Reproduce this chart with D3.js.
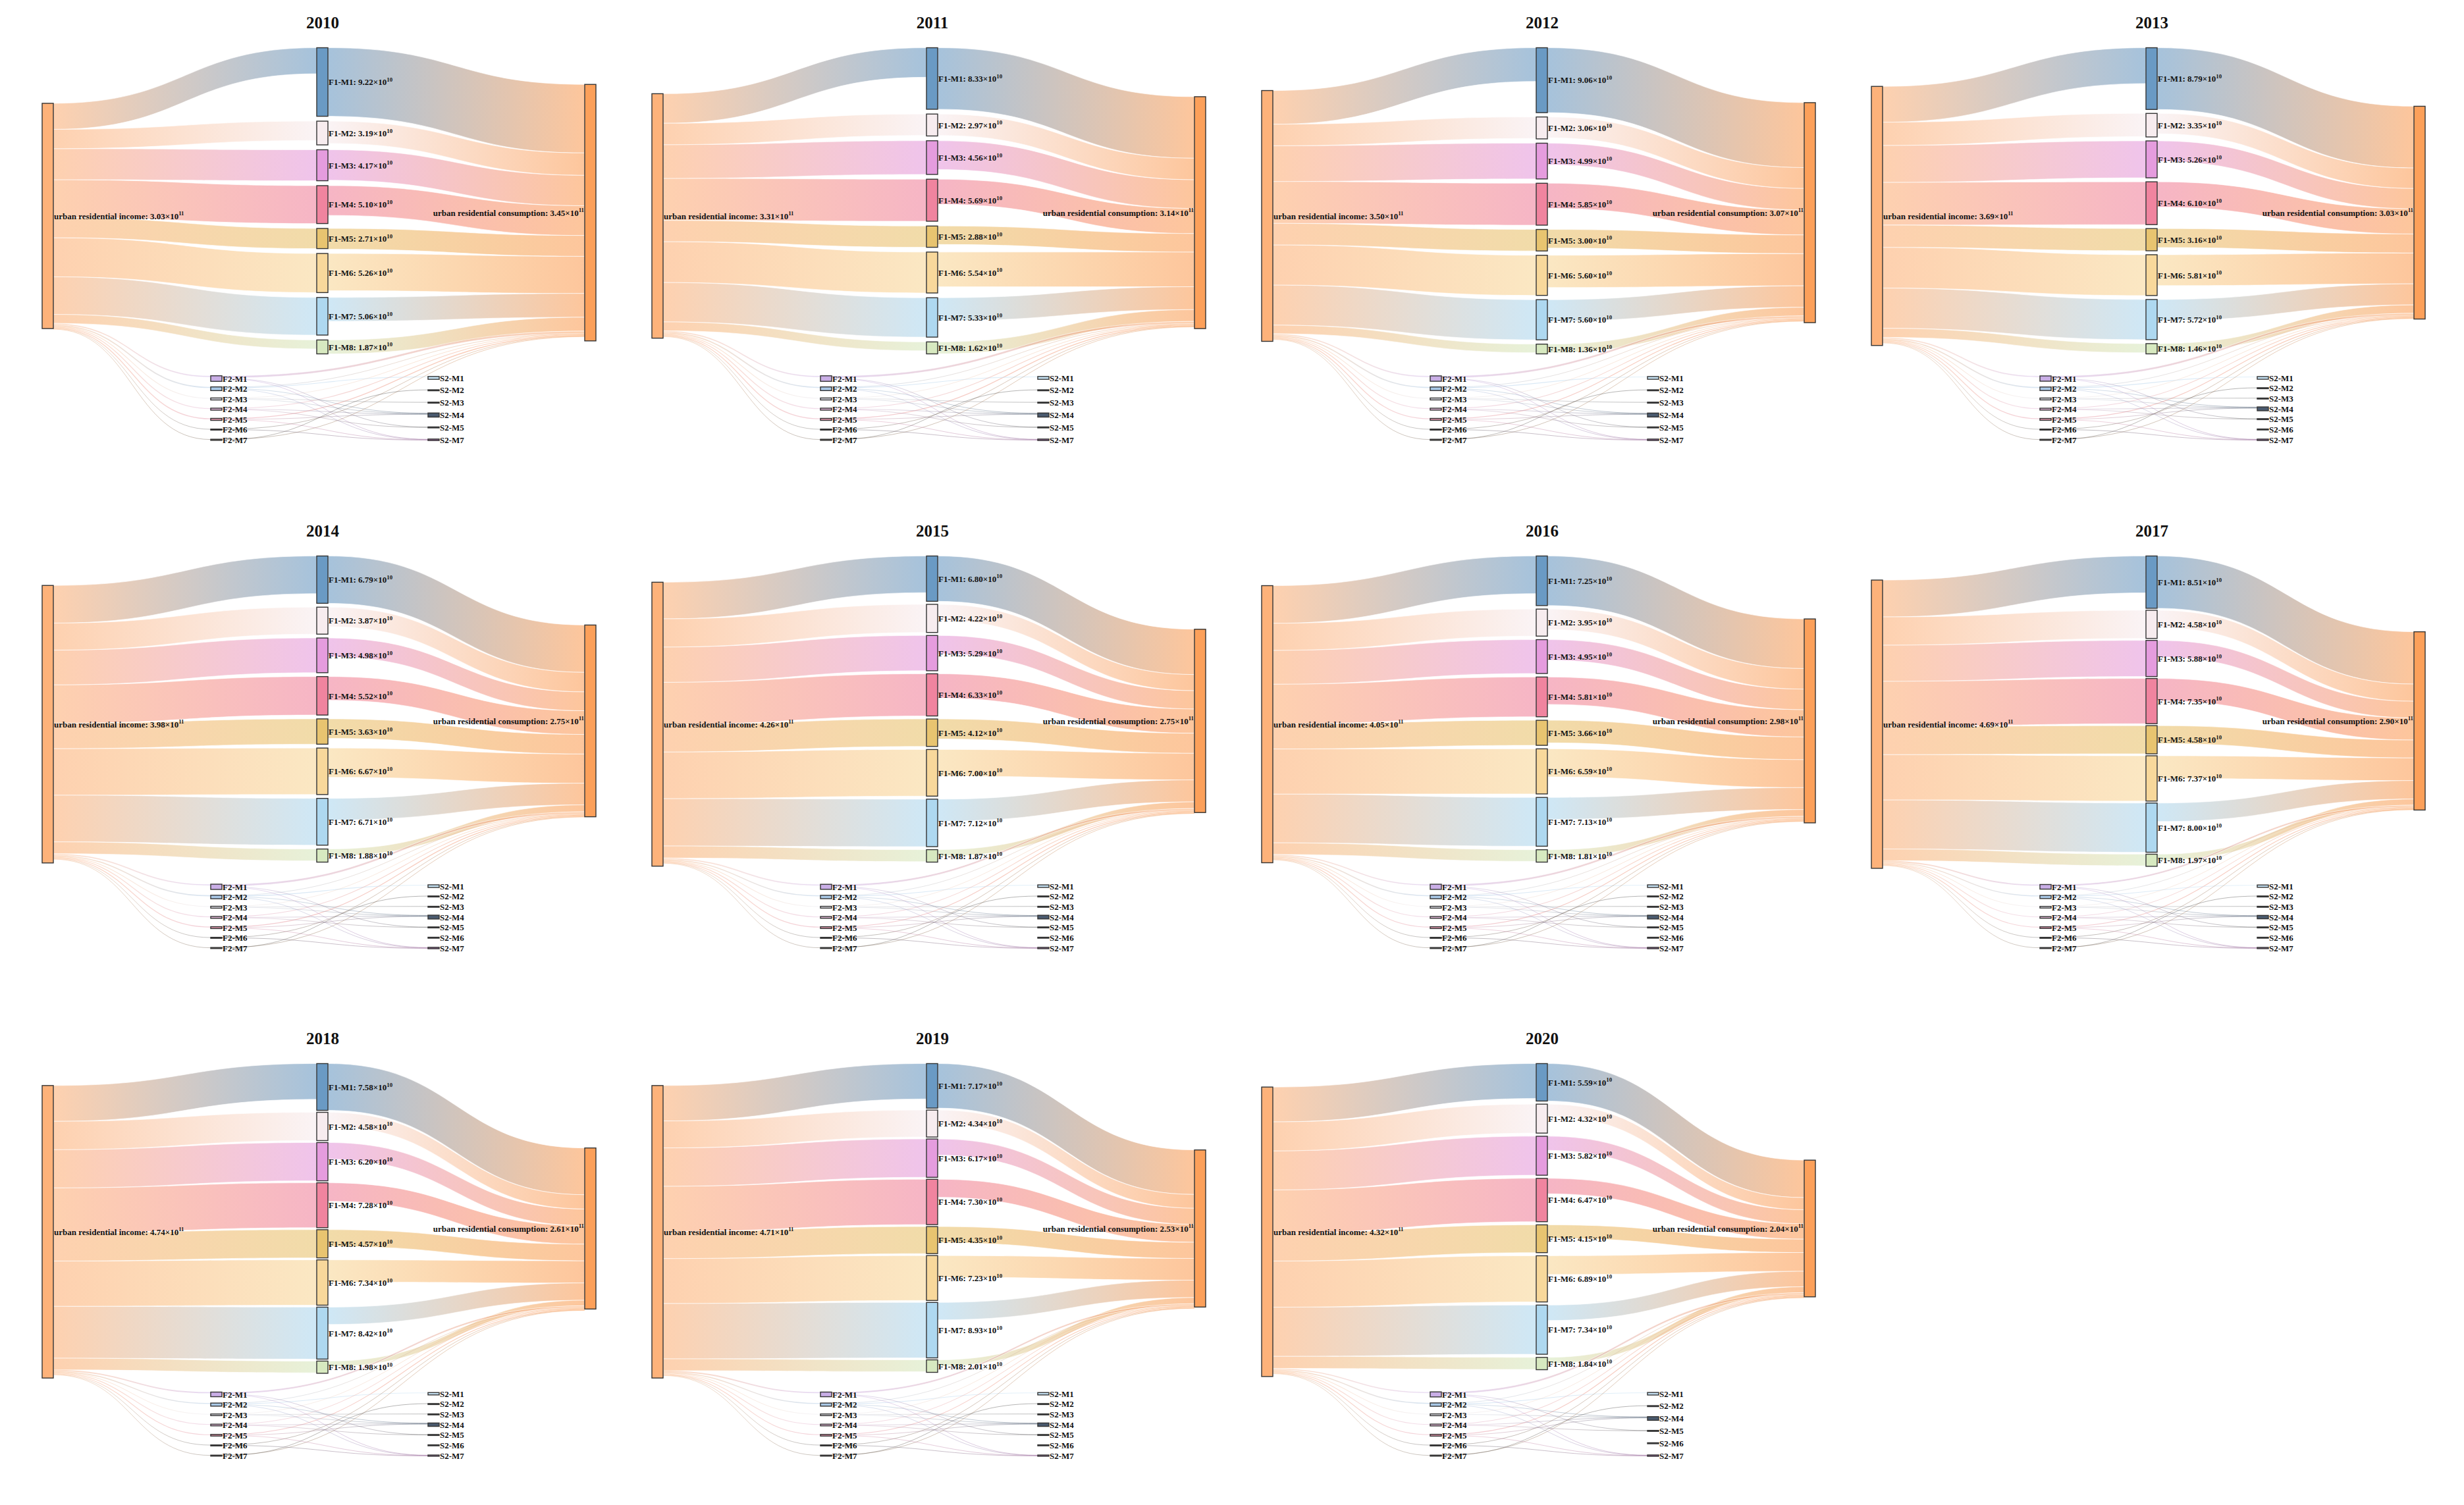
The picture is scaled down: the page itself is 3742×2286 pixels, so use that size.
<!DOCTYPE html>
<html><head><meta charset="utf-8">
<script src="https://cdn.jsdelivr.net/npm/d3@7"></script>
<style>
body{margin:0;background:#fff}
svg{display:block}
text{font-family:"Liberation Serif","Times New Roman",serif;font-weight:bold;fill:#111}
</style>
</head><body>
<svg id="chart" width="3742" height="2286"></svg>
<script>
// ---------------- DATA ----------------
const years = [2010, 2011, 2012, 2013, 2014, 2015, 2016, 2017, 2018, 2019, 2020];
// node totals, ×10^11
const incomeTotal = [3.03, 3.31, 3.50, 3.69, 3.98, 4.26, 4.05, 4.69, 4.74, 4.71, 4.32];
const consumptionTotal = [3.45, 3.14, 3.07, 3.03, 2.75, 2.75, 2.98, 2.90, 2.61, 2.53, 2.04];
// first-level sectors, ×10^10
const f1Labels = ["F1-M1", "F1-M2", "F1-M3", "F1-M4", "F1-M5", "F1-M6", "F1-M7", "F1-M8"];
const f1Values = [
  [9.22, 3.19, 4.17, 5.10, 2.71, 5.26, 5.06, 1.87],
  [8.33, 2.97, 4.56, 5.69, 2.88, 5.54, 5.33, 1.62],
  [9.06, 3.06, 4.99, 5.85, 3.00, 5.60, 5.60, 1.36],
  [8.79, 3.35, 5.26, 6.10, 3.16, 5.81, 5.72, 1.46],
  [6.79, 3.87, 4.98, 5.52, 3.63, 6.67, 6.71, 1.88],
  [6.80, 4.22, 5.29, 6.33, 4.12, 7.00, 7.12, 1.87],
  [7.25, 3.95, 4.95, 5.81, 3.66, 6.59, 7.13, 1.81],
  [8.51, 4.58, 5.88, 7.35, 4.58, 7.37, 8.00, 1.97],
  [7.58, 4.58, 6.20, 7.28, 4.57, 7.34, 8.42, 1.98],
  [7.17, 4.34, 6.17, 7.30, 4.35, 7.23, 8.93, 2.01],
  [5.59, 4.32, 5.82, 6.47, 4.15, 6.89, 7.34, 1.84]
];
// flows income -> F1 (×10^10), estimated from band widths
const incomeToF1 = [
  [3.5, 2.6, 4.17, 5.10, 2.71, 5.26, 5.06, 1.2],
  [4.0, 2.9, 4.56, 5.69, 2.88, 5.54, 5.33, 1.2],
  [4.7, 3.0, 4.99, 5.85, 3.00, 5.60, 5.60, 1.2],
  [5.1, 3.3, 5.26, 6.10, 3.16, 5.81, 5.72, 1.3],
  [5.4, 3.87, 4.98, 5.52, 3.63, 6.67, 6.71, 1.7],
  [5.5, 4.22, 5.29, 6.33, 4.12, 7.00, 7.12, 1.8],
  [5.5, 3.95, 4.95, 5.81, 3.66, 6.59, 7.13, 1.7],
  [6.0, 4.58, 5.88, 7.35, 4.58, 7.37, 8.00, 1.9],
  [5.8, 4.58, 6.20, 7.28, 4.57, 7.34, 8.42, 1.9],
  [5.7, 4.34, 6.17, 7.30, 4.35, 7.23, 8.93, 1.9],
  [5.2, 4.32, 5.82, 6.47, 4.15, 6.89, 7.34, 1.8]
];
// flows F1 -> consumption (×10^10), estimated from band widths
const f1ToConsumption = [
  [9.22, 3.0, 4.1, 4.0, 2.8, 5.0, 3.2, 1.87],
  [8.33, 2.9, 3.9, 3.4, 2.5, 4.7, 3.1, 1.6],
  [9.06, 2.9, 3.0, 3.5, 2.6, 4.5, 3.0, 1.2],
  [8.79, 2.9, 2.9, 3.6, 2.7, 4.4, 3.0, 1.2],
  [6.79, 2.8, 2.7, 3.4, 2.8, 4.2, 3.1, 1.0],
  [6.80, 2.4, 2.75, 3.65, 3.0, 4.0, 3.3, 1.0],
  [7.25, 3.0, 3.0, 4.0, 3.3, 4.1, 3.2, 1.0],
  [8.51, 2.8, 2.7, 3.6, 2.9, 3.7, 3.0, 1.0],
  [7.58, 2.3, 2.7, 3.0, 2.7, 3.6, 2.8, 0.9],
  [7.17, 2.2, 2.6, 2.9, 2.6, 3.5, 2.8, 1.0],
  [5.59, 1.8, 2.1, 2.3, 2.0, 2.8, 2.3, 0.9]
];
// second-level sectors (small), ×10^10
const f2Labels = ["F2-M1", "F2-M2", "F2-M3", "F2-M4", "F2-M5", "F2-M6", "F2-M7"];
const f2Values = [0.75, 0.5, 0.27, 0.27, 0.27, 0.1, 0.15];
const incomeToF2 = [0.2, 0.15, 0.1, 0.12, 0.12, 0.06, 0.08];
const f2ToConsumption = [0.3, 0.08, 0.06, 0.1, 0.12, 0.05, 0.05];
const s2Labels = ["S2-M1", "S2-M2", "S2-M3", "S2-M4", "S2-M5", "S2-M6", "S2-M7"];
const s2Values = [0.38, 0.1, 0.1, 0.55, 0.1, 0.1, 0.2];
// which S2 nodes appear in each year
const s2Present = [
  [1, 1, 1, 1, 1, 0, 1],
  [1, 1, 1, 1, 1, 0, 1],
  [1, 1, 1, 1, 1, 0, 1],
  [1, 1, 1, 1, 1, 1, 1],
  [1, 1, 1, 1, 1, 1, 1],
  [1, 1, 1, 1, 1, 1, 1],
  [1, 1, 1, 1, 1, 1, 1],
  [1, 1, 1, 1, 1, 1, 1],
  [1, 1, 1, 1, 1, 1, 1],
  [1, 1, 1, 1, 1, 1, 1],
  [1, 1, 0, 1, 1, 1, 1]
];
// F2 -> S2 flows: [F2 index, S2 index, value ×10^10]
const f2ToS2 = [
  [0, 4, 0.05], [0, 6, 0.06], [1, 0, 0.1], [1, 3, 0.06], [2, 3, 0.05], [2, 2, 0.04],
  [3, 3, 0.05], [4, 3, 0.04], [4, 6, 0.04], [5, 6, 0.03], [6, 1, 0.03], [1, 6, 0.03], [3, 4, 0.03]
];

// ---------------- STYLE ----------------
const incomeColor = "#FDB27A", consColor = "#FCA05A";
const f1Colors = ["#6A9AC4", "#F7ECEF", "#E59CDE", "#F0849F", "#E8C470", "#F8D89B", "#AED8F0", "#D7E9C0"];
const f2Colors = ["#C9AEE6", "#A9C8E6", "#E6E6EE", "#E2B6D6", "#E49AB0", "#555555", "#6A5E52"];
const s2Colors = ["#C6E2F4", "#444444", "#555555", "#4A5A6E", "#555555", "#666666", "#9A6A9A"];

// ---------------- LAYOUT ----------------
const svg = d3.select("#chart");
const defs = svg.append("defs");
const colW = 926, rowH = 771.5, nodeW = 17;
const colX = {income: 64, f2: 320, f1: 481, s2: 650, cons: 888};
let gid = 0;

function label(g, x, y, main, sup, anchor, size) {
  const t = g.append("text").attr("x", x).attr("y", y).attr("dy", "0.36em")
    .attr("text-anchor", anchor).attr("font-size", size);
  t.append("tspan").text(main);
  if (sup) t.append("tspan").attr("font-size", size * 0.68).attr("dy", -size * 0.4).text(sup);
}

years.forEach((yr, yi) => {
  const col = yi % 4, row = Math.floor(yi / 4);
  const g = svg.append("g").attr("transform", `translate(${col * colW},${Math.round(row * rowH)})`);

  const sumF1 = d3.sum(f1Values[yi]);
  const K = 3.2 + 296 / sumF1;                    // px per 10^10
  const vs = d3.scaleLinear().domain([0, 1]).range([0, K]);

  const nodes = [];
  const mk = (name, x, y0, h, color, kind, val) => {
    const n = {name, x0: x, x1: x + nodeW, y0, y1: y0 + h, yc: y0 + h / 2, color, kind, val, out: [], inn: []};
    nodes.push(n); return n;
  };
  // income & consumption
  const hInc = vs(incomeTotal[yi] * 10), hCons = vs(consumptionTotal[yi] * 10);
  const nInc = mk("urban residential income", colX.income, 328 - hInc / 2, hInc, incomeColor, "inc", incomeTotal[yi]);
  const nCons = mk("urban residential consumption", colX.cons, 323 - hCons / 2, hCons, consColor, "cons", consumptionTotal[yi]);
  // F1 column
  const span = 465;
  const gap = Math.max(3, (span - vs(sumF1)) / 7);
  let y = 305 - span / 2;
  const nF1 = f1Values[yi].map((v, i) => {
    const n = mk(f1Labels[i], colX.f1, y, vs(v), f1Colors[i], "f1", v);
    y += vs(v) + gap; return n;
  });
  // F2 column
  const f2Pos = d3.scalePoint().domain(f2Labels).range([575, 668]);
  const nF2 = f2Labels.map((l, i) => {
    const h = Math.max(1.5, vs(f2Values[i]));
    return mk(l, colX.f2, f2Pos(l) - h / 2, h, f2Colors[i], "f2");
  });
  // S2 column
  const s2Here = s2Labels.filter((l, i) => s2Present[yi][i]);
  const s2Pos = d3.scalePoint().domain(s2Here).range([574, 668]);
  const nS2 = s2Labels.map((l, i) => {
    if (!s2Present[yi][i]) return null;
    const h = Math.max(1.5, vs(s2Values[i]));
    return mk(l, colX.s2, s2Pos(l) - h / 2, h, s2Colors[i], "s2");
  });

  // links
  const links = [];
  const link = (s, t, v, op) => { if (s && t && v > 0) { const l = {s, t, v, w: vs(v), op}; links.push(l); s.out.push(l); t.inn.push(l); } };
  nF1.forEach((n, i) => link(nInc, n, incomeToF1[yi][i], 0.6));
  nF2.forEach((n, i) => link(nInc, n, incomeToF2[i], 0.45));
  nF1.forEach((n, i) => link(n, nCons, f1ToConsumption[yi][i], 0.6));
  nF2.forEach((n, i) => link(n, nCons, f2ToConsumption[i], 0.5));
  f2ToS2.forEach(([a, b, v]) => link(nF2[a], nS2[b], v, 0.5));

  nodes.forEach(n => {
    n.out.sort((a, b) => a.t.yc - b.t.yc);
    n.inn.sort((a, b) => a.s.yc - b.s.yc);
    let o = n.y0; n.out.forEach(l => { l.sy = o; o += l.w; });
    let q = n.y0; n.inn.forEach(l => { l.ty = q; q += l.w; });
  });

  const lg = g.append("g");
  // draw thin first, then wide
  links.slice().sort((a, b) => a.w - b.w).reverse().forEach(l => {
    const id = "lg" + (gid++);
    const x0 = l.s.x1, x1 = l.t.x0, xm = (x0 + x1) / 2;
    const gr = defs.append("linearGradient").attr("id", id).attr("gradientUnits", "userSpaceOnUse")
      .attr("x1", x0 + col * colW).attr("x2", x1 + col * colW).attr("y1", 0).attr("y2", 0);
    gr.append("stop").attr("offset", "0%").attr("stop-color", l.s.color);
    gr.append("stop").attr("offset", "100%").attr("stop-color", l.t.color);
    if (l.w >= 2) {
      const w = l.w;
      lg.append("path")
        .attr("d", `M${x0},${l.sy}C${xm},${l.sy} ${xm},${l.ty} ${x1},${l.ty}L${x1},${l.ty + w}C${xm},${l.ty + w} ${xm},${l.sy + w} ${x0},${l.sy + w}Z`)
        .attr("fill", `url(#${id})`).attr("fill-opacity", l.op)
        .attr("stroke", "#fff").attr("stroke-width", 0.7).attr("stroke-opacity", 0.9);
    } else {
      const a = l.sy + l.w / 2, b = l.ty + l.w / 2;
      lg.append("path")
        .attr("d", `M${x0},${a}C${xm},${a} ${xm},${b} ${x1},${b}`)
        .attr("fill", "none").attr("stroke", `url(#${id})`).attr("stroke-opacity", l.op)
        .attr("stroke-width", Math.max(0.8, l.w));
    }
  });
  // gradient space fix: gradients are in user space of the group, so reset x offset
  // (the group is translated, so user space is local) -> correct the stops coordinates
  // nodes
  g.append("g").selectAll("rect").data(nodes).join("rect")
    .attr("x", d => d.x0).attr("y", d => d.y0)
    .attr("width", d => d.kind === "f2" || d.kind === "s2" ? nodeW + 0 : nodeW)
    .attr("height", d => d.y1 - d.y0)
    .attr("fill", d => d.color).attr("stroke", "#333").attr("stroke-width", 1.4);

  // labels
  const tg = g.append("g");
  label(tg, nInc.x1 + 1, nInc.yc, `urban residential income: ${incomeTotal[yi].toFixed(2)}×10`, "11", "start", 13);
  label(tg, nCons.x0 - 1, nCons.yc, `urban residential consumption: ${consumptionTotal[yi].toFixed(2)}×10`, "11", "end", 13);
  nF1.forEach((n, i) => label(tg, n.x1 + 1, n.yc, `${f1Labels[i]}: ${f1Values[yi][i].toFixed(2)}×10`, "10", "start", 13));
  nF2.forEach(n => label(tg, n.x1 + 1, n.yc, n.name, null, "start", 13));
  nS2.forEach(n => { if (n) label(tg, n.x1 + 1, n.yc, n.name, null, "start", 13); });
  // title
  g.append("text").attr("x", 490).attr("y", 43).attr("text-anchor", "middle")
    .attr("font-size", 25).text(yr);
});
// gradients use userSpaceOnUse of the referencing element (local coords), so remove column offsets
defs.selectAll("linearGradient").each(function() {
  const el = d3.select(this);
  const x1 = +el.attr("x1"), x2 = +el.attr("x2");
  const off = Math.floor(Math.min(x1, x2) / colW) * colW;
  el.attr("x1", x1 - off).attr("x2", x2 - off);
});
</script>
</body></html>
